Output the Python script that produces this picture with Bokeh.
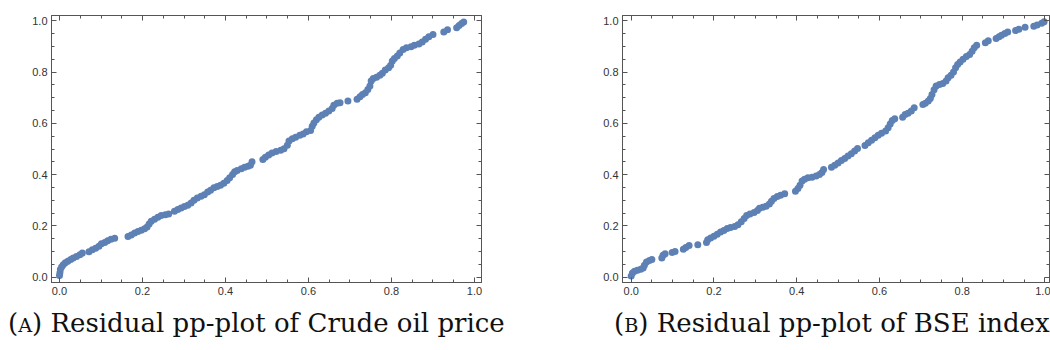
from bokeh.plotting import figure
from bokeh.models import (FixedTicker, NumeralTickFormatter, LinearAxis, Range1d, Div,
                          CustomLabelingPolicy, CustomJSTickFormatter)
from bokeh.layouts import column, row
from bokeh.embed import file_html
from bokeh.resources import INLINE

# ---------------- data ----------------
crude_x = [0.000, 0.001, 0.002, 0.005, 0.009, 0.014, 0.020, 0.027, 0.033, 0.041, 0.049, 0.055,
           0.071, 0.079, 0.087, 0.095, 0.101, 0.109, 0.116, 0.124, 0.133,
           0.165, 0.173, 0.181, 0.189, 0.197, 0.205, 0.211, 0.216, 0.221, 0.229, 0.237, 0.245, 0.255, 0.263,
           0.277, 0.285, 0.293, 0.301, 0.309, 0.317, 0.324, 0.332, 0.341, 0.349, 0.357, 0.364, 0.372, 0.380,
           0.388, 0.396, 0.404, 0.410, 0.417, 0.422, 0.428, 0.438, 0.446, 0.454, 0.460, 0.464,
           0.490, 0.496, 0.504, 0.512, 0.522, 0.533, 0.541, 0.549, 0.553, 0.561, 0.569, 0.579, 0.587, 0.595,
           0.605, 0.609, 0.613, 0.619, 0.625, 0.633, 0.641, 0.649, 0.657, 0.661, 0.669, 0.676,
           0.695,
           0.717, 0.724, 0.730, 0.737, 0.743, 0.748, 0.751, 0.756, 0.764, 0.772, 0.778, 0.785, 0.793, 0.798,
           0.802, 0.807, 0.814, 0.820, 0.828, 0.836, 0.847, 0.855, 0.866, 0.874, 0.882, 0.890, 0.900,
           0.926, 0.935,
           0.957, 0.963, 0.969, 0.974]
crude_y = [0.007, 0.017, 0.030, 0.040, 0.049, 0.056, 0.062, 0.069, 0.075, 0.081, 0.088, 0.094,
           0.099, 0.107, 0.113, 0.121, 0.130, 0.135, 0.142, 0.148, 0.152,
           0.159, 0.165, 0.172, 0.178, 0.183, 0.189, 0.196, 0.208, 0.218, 0.226, 0.234, 0.241, 0.244, 0.247,
           0.257, 0.264, 0.270, 0.276, 0.281, 0.289, 0.300, 0.309, 0.316, 0.322, 0.332, 0.339, 0.349, 0.354,
           0.359, 0.367, 0.377, 0.388, 0.401, 0.411, 0.416, 0.423, 0.429, 0.433, 0.437, 0.450,
           0.459, 0.468, 0.477, 0.485, 0.490, 0.495, 0.501, 0.515, 0.531, 0.540, 0.546, 0.554, 0.559, 0.567,
           0.572, 0.589, 0.602, 0.614, 0.624, 0.633, 0.640, 0.648, 0.658, 0.671, 0.679, 0.681,
           0.687,
           0.694, 0.704, 0.713, 0.720, 0.732, 0.746, 0.765, 0.775, 0.780, 0.788, 0.796, 0.808, 0.817, 0.827,
           0.843, 0.853, 0.863, 0.875, 0.888, 0.895, 0.899, 0.905, 0.910, 0.918, 0.928, 0.938, 0.947,
           0.957, 0.965,
           0.973, 0.982, 0.990, 0.996]

bse_x = [0.000, 0.003, 0.008, 0.015, 0.023, 0.029, 0.032, 0.037, 0.044, 0.050,
         0.074, 0.077, 0.082,
         0.099, 0.106,
         0.126, 0.132, 0.140,
         0.161,
         0.182, 0.185, 0.192, 0.200, 0.208, 0.216, 0.224, 0.232, 0.240, 0.250, 0.258, 0.266, 0.273, 0.279,
         0.287, 0.297, 0.305, 0.310, 0.318, 0.326, 0.334, 0.339, 0.345, 0.353, 0.361, 0.371,
         0.397, 0.403, 0.408, 0.413, 0.419, 0.427, 0.437, 0.447, 0.455, 0.461, 0.465,
         0.484, 0.492, 0.500, 0.508, 0.516, 0.524, 0.532, 0.540, 0.547,
         0.565, 0.573, 0.581, 0.589, 0.597, 0.605, 0.615, 0.621, 0.626, 0.631, 0.637,
         0.656, 0.662, 0.669, 0.677, 0.684,
         0.705, 0.711, 0.718, 0.723, 0.727, 0.732, 0.737, 0.745, 0.753, 0.761, 0.766, 0.773, 0.779,
         0.784, 0.789, 0.795, 0.802, 0.810, 0.818, 0.824, 0.829, 0.835,
         0.856, 0.863,
         0.882, 0.889, 0.895, 0.903, 0.910,
         0.929, 0.937, 0.952,
         0.973, 0.981, 0.992, 0.998]
bse_y = [0.005, 0.016, 0.023, 0.027, 0.031, 0.036, 0.047, 0.059, 0.065, 0.069,
         0.075, 0.086, 0.091,
         0.096, 0.100,
         0.109, 0.116, 0.124,
         0.127,
         0.135, 0.146, 0.153, 0.160, 0.168, 0.176, 0.182, 0.190, 0.194, 0.198, 0.205, 0.216, 0.229, 0.241,
         0.247, 0.252, 0.260, 0.269, 0.273, 0.277, 0.286, 0.296, 0.307, 0.315, 0.320, 0.326,
         0.335, 0.346, 0.359, 0.375, 0.382, 0.388, 0.390, 0.395, 0.401, 0.408, 0.420,
         0.429, 0.437, 0.446, 0.455, 0.463, 0.473, 0.482, 0.492, 0.502,
         0.514, 0.525, 0.534, 0.544, 0.554, 0.562, 0.570, 0.583, 0.598, 0.611, 0.618,
         0.624, 0.635, 0.640, 0.648, 0.661,
         0.674, 0.679, 0.687, 0.697, 0.713, 0.731, 0.746, 0.752, 0.756, 0.765, 0.778, 0.788, 0.801,
         0.817, 0.830, 0.840, 0.850, 0.861, 0.869, 0.882, 0.895, 0.905,
         0.915, 0.922,
         0.931, 0.938, 0.944, 0.951, 0.957,
         0.962, 0.967, 0.975,
         0.979, 0.984, 0.991, 0.997]

major_ticks = [0.0, 0.2, 0.4, 0.6, 0.8, 1.0]
minor_ticks = [0.0, 0.05, 0.1, 0.15, 0.2, 0.25, 0.3, 0.35, 0.4, 0.45, 0.5,
               0.55, 0.6, 0.65, 0.7, 0.75, 0.8, 0.85, 0.9, 0.95, 1.0]

caption_a_tag = "A"
caption_a_text = "Residual pp-plot of Crude oil price"
caption_b_tag = "B"
caption_b_text = "Residual pp-plot of BSE index"

# ---------------- styling ----------------
POINT = "#5E81B5"
FRAME = "#555555"
LABEL = "#333333"

HIDE_ALL = """
const all = [...indices];
for (const i of all) indices.unset(i);
return indices;
"""


def style_axis(ax, show_labels):
    ax.ticker = FixedTicker(ticks=major_ticks, minor_ticks=minor_ticks)
    ax.axis_line_color = FRAME
    ax.axis_line_width = 1
    ax.major_tick_line_color = FRAME
    ax.minor_tick_line_color = FRAME
    ax.major_tick_in = 5
    ax.major_tick_out = 0
    ax.minor_tick_in = 3
    ax.minor_tick_out = 0
    ax.major_label_text_font = "Liberation Sans"
    ax.major_label_text_font_size = "11px"
    ax.major_label_text_color = LABEL
    if show_labels:
        ax.formatter = NumeralTickFormatter(format="0.0")
        ax.major_label_standoff = 4
    else:
        # frame ticks only: no labels on the top and right edges
        ax.formatter = CustomJSTickFormatter(code="return ''")
        ax.major_label_standoff = 0
        ax.major_label_policy = CustomLabelingPolicy(code=HIDE_ALL)


def make_panel(xs, ys, x_lo, x_hi, border_left, border_right):
    p = figure(width=525, height=302, output_backend="svg", toolbar_location=None,
               x_range=Range1d(x_lo, x_hi), y_range=Range1d(-0.0207, 1.021),
               min_border_left=border_left, min_border_right=border_right,
               min_border_top=15, min_border_bottom=20)
    p.grid.visible = False
    p.outline_line_color = FRAME
    p.background_fill_color = "white"
    p.border_fill_color = "white"
    p.add_layout(LinearAxis(), "above")
    p.add_layout(LinearAxis(), "right")
    for ax in p.below + p.left:
        style_axis(ax, True)
    for ax in p.above + p.right:
        style_axis(ax, False)
    p.scatter(xs, ys, size=7, fill_color=POINT, line_color=None)
    return p


pA = make_panel(crude_x, crude_y, -0.0193, 1.0169, 51, 44)
pB = make_panel(bse_x, bse_y, -0.021, 1.011, 97, 1)


def caption(tag, text, pad_left):
    html = ('<div style="padding-left:%dpx; padding-top:1px; font-family:\'DejaVu Serif\'; '
            'font-size:26px; line-height:1.2; color:#111; white-space:nowrap">'
            '(<span style="font-size:0.74em">%s</span>) %s</div>') % (pad_left, tag, text)
    return Div(text=html, width=525, height=48)


dA = caption(caption_a_tag, caption_a_text, 3)
dB = caption(caption_b_tag, caption_b_text, 74)

layout = column(row(pA, pB, spacing=0), row(dA, dB, spacing=0), spacing=0)

open("out.html", "w").write(file_html(layout, INLINE))
